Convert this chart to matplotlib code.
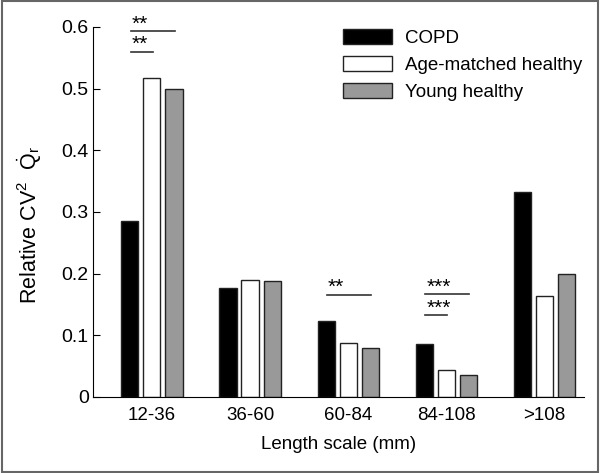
import numpy as np
import matplotlib
matplotlib.use("Agg")
import matplotlib.pyplot as plt
from matplotlib.patches import Rectangle

plt.rcParams['font.family'] = ['Liberation Sans', 'DejaVu Sans']
plt.rcParams['mathtext.fontset'] = 'custom'
plt.rcParams['mathtext.rm'] = 'Liberation Sans'
plt.rcParams['mathtext.it'] = 'Liberation Sans:italic'

categories = ['12-36', '36-60', '60-84', '84-108', '>108']
series = ['COPD', 'Age-matched healthy', 'Young healthy']
copd = [0.286, 0.176, 0.123, 0.085, 0.333]
age_matched = [0.517, 0.189, 0.087, 0.044, 0.163]
young = [0.499, 0.188, 0.079, 0.036, 0.200]
yticks = [0, 0.1, 0.2, 0.3, 0.4, 0.5, 0.6]
ytick_labels = ['0', '0.1', '0.2', '0.3', '0.4', '0.5', '0.6']

# significance brackets: (group, from bar, to bar, height, label)
sig = [
    (0, 0, 2, 0.593, '**'),
    (0, 0, 1, 0.560, '**'),
    (2, 0, 2, 0.166, '**'),
    (3, 0, 2, 0.167, '***'),
    (3, 0, 1, 0.132, '***'),
]

colors = ['black', 'white', '#999999']
offsets = [-0.225, 0.0, 0.225]
width = 0.175
fs = 13.5

fig = plt.figure(figsize=(6, 4.73), dpi=100)
ax = fig.add_axes([0.155, 0.161, 0.818, 0.782])

x = np.arange(len(categories))
for vals, c, off, name in zip([copd, age_matched, young], colors, offsets, series):
    ax.bar(x + off, vals, width, color=c, edgecolor='#222222', linewidth=1.0, label=name)

for g, a, b, h, lab in sig:
    x0 = g + offsets[a] + 0.01
    x1 = g + offsets[b] + 0.01
    ax.plot([x0, x1], [h, h], color='#333333', linewidth=1.2)
    ax.text(x0 + 0.01, h - 0.004, lab, fontsize=15, ha='left', va='bottom')

ax.set_xlim(-0.6, 4.4)
ax.set_ylim(0, 0.6)
ax.set_xticks(x)
ax.set_xticklabels(categories, fontsize=fs)
ax.set_yticks(yticks)
ax.set_yticklabels(ytick_labels, fontsize=fs + 0.5)
ax.tick_params(axis='x', length=0, pad=7)
ax.tick_params(axis='y', direction='in', length=5, pad=3)
ax.spines['top'].set_visible(False)
ax.spines['right'].set_visible(False)
ax.set_xlabel('Length scale (mm)', fontsize=fs, labelpad=9)
ax.set_ylabel(r'Relative CV$^2$  $\dot{\mathrm{Q}}_\mathrm{r}$', fontsize=15.5)
ax.yaxis.set_label_coords(-0.10, 0.465)

leg = ax.legend(loc='upper left', bbox_to_anchor=(343 / 600, 0.9395), bbox_transform=fig.transFigure,
                frameon=False, fontsize=fs, borderpad=0, borderaxespad=0,
                handlelength=2.6, handleheight=0.9, handletextpad=0.7, labelspacing=0.47)

fig.patches.append(Rectangle((0.003, 0.003), 0.994, 0.994, transform=fig.transFigure,
                             fill=False, edgecolor='#666666', linewidth=1.5))

fig.savefig('out.png', dpi=100)
